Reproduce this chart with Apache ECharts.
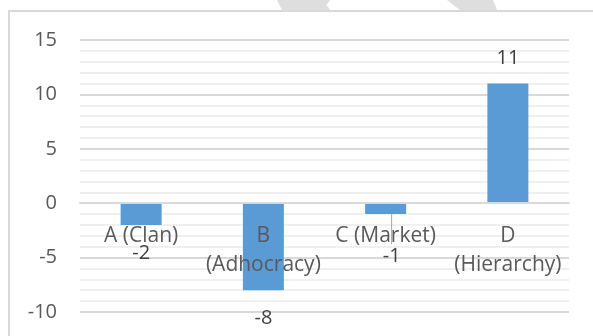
<!DOCTYPE html>
<html>
<head>
<meta charset="utf-8">
<script src="https://cdn.jsdelivr.net/npm/echarts@6/dist/echarts.min.js"></script>
<style>
  html, body { margin: 0; padding: 0; background: #ffffff; }
  #chart { width: 593px; height: 336px; }
</style>
</head>
<body>
<div id="chart"></div>
<script>
// Culture type scores
const categories = ['A (Clan)', 'B\n(Adhocracy)', 'C (Market)', 'D\n(Hierarchy)'];
const scores = [-2, -8, -1, 11];
const yTicks = { min: -10, max: 15, step: 5 };

const FONT = '"Open Sans", "Liberation Sans", sans-serif';

const GRID = { left: 80, right: 24, top: 40, bottom: 24 };
const PLOT_H = 336 - GRID.top - GRID.bottom;
// distance from the plot bottom up to the value-0 line
const zeroOffset = PLOT_H * (0 - yTicks.min) / (yTicks.max - yTicks.min);

const chart = echarts.init(document.getElementById('chart'), null, { renderer: 'canvas' });

const barData = scores.map(function (v, i) {
  const item = {
    value: v,
    label: v >= 0
      ? { position: 'top', distance: 13 }
      : { position: 'bottom', distance: 16 }
  };
  if (i === 2) {
    item.labelLine = { show: true, lineStyle: { color: '#a6a6a6', width: 1 } };
  }
  return item;
});

chart.setOption({
  backgroundColor: '#ffffff',
  animation: false,
  graphic: [
    // faint shapes along the top edge, above the chart frame
    { type: 'polygon', z: -1, silent: true,
      shape: { points: [[277, 0], [330, 0], [326.5, 5], [330, 10], [282, 10]] },
      style: { fill: '#dedede' } },
    { type: 'polygon', z: -1, silent: true,
      shape: { points: [[447, 0], [493, 0], [497, 10], [460, 10]] },
      style: { fill: '#dedede' } },
    // chart frame
    { type: 'rect', z: 0, silent: true,
      shape: { x: 9, y: 11, width: 700, height: 400 },
      style: { fill: 'none', stroke: '#d9d9d9', lineWidth: 2 } }
  ],
  grid: {
    left: GRID.left, right: GRID.right, top: GRID.top, bottom: GRID.bottom,
    containLabel: false,
    outerBoundsMode: 'none'
  },
  xAxis: {
    type: 'category',
    data: categories,
    position: 'bottom',
    offset: -zeroOffset,
    z: 5,
    axisLine: { show: true, onZero: false, lineStyle: { color: '#d9d9d9', width: 2 } },
    axisTick: { show: false },
    axisLabel: {
      interval: 0,
      margin: 18,
      fontFamily: FONT,
      fontSize: 21,
      lineHeight: 29,
      color: '#595959'
    },
    splitLine: { show: false }
  },
  yAxis: {
    type: 'value',
    min: yTicks.min,
    max: yTicks.max,
    interval: yTicks.step,
    axisLine: { show: false },
    axisTick: { show: false },
    axisLabel: { margin: 23, fontFamily: FONT, fontSize: 20, color: '#595959' },
    splitLine: { show: true, lineStyle: { color: '#d9d9d9', width: 2 } },
    minorTick: { show: false, splitNumber: 5 },
    minorSplitLine: { show: true, lineStyle: { color: '#f0f0f0', width: 2 } }
  },
  series: [{
    type: 'bar',
    data: barData,
    barWidth: 41,
    z: 2,
    itemStyle: { color: '#5b9bd5' },
    label: {
      show: true,
      fontFamily: FONT,
      fontSize: 20,
      lineHeight: 24,
      color: '#404040'
    },
    labelLayout: function (params) {
      if (params.dataIndex === 2) {
        return { dx: 6, dy: 14 };
      }
      return {};
    },
    labelLine: { show: false }
  }]
});
</script>
</body>
</html>
